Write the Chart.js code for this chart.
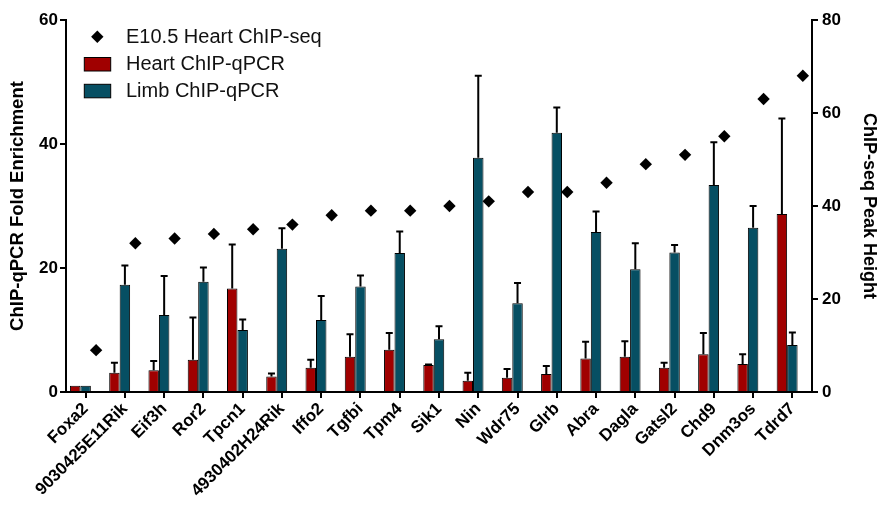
<!DOCTYPE html>
<html>
<head>
<meta charset="utf-8">
<script src="https://cdn.jsdelivr.net/npm/chart.js@4/dist/chart.umd.min.js"></script>
<style>
  html, body { margin: 0; padding: 0; background: #ffffff; }
  #wrap { width: 881px; height: 505px; position: relative; }
</style>
</head>
<body>
<div id="wrap"><canvas id="c" width="881" height="505"></canvas></div>
<script>
const categories = ["Foxa2", "9030425E11Rik", "Eif3h", "Ror2", "Tpcn1", "4930402H24Rik", "Iffo2", "Tgfbi", "Tpm4", "Sik1", "Nin", "Wdr75", "Glrb", "Abra", "Dagla", "Gatsl2", "Chd9", "Dnm3os", "Tdrd7"];
const heartValues = [1.0, 3.1, 3.5, 5.2, 16.7, 2.5, 3.9, 5.7, 6.8, 4.35, 1.8, 2.3, 2.9, 5.4, 5.7, 3.9, 6.1, 4.5, 28.7];
const heartErrors = [0, 1.6, 1.5, 6.8, 7.1, 0.5, 1.3, 3.6, 2.7, 0.1, 1.3, 1.4, 1.3, 2.7, 2.5, 0.8, 3.4, 1.6, 15.4];
const limbValues = [1.0, 17.3, 12.4, 17.8, 10.0, 23.1, 11.6, 17.0, 22.4, 8.5, 37.8, 14.3, 41.8, 25.8, 19.8, 22.5, 33.4, 26.5, 7.6];
const limbErrors = [0, 3.1, 6.3, 2.3, 1.7, 3.3, 3.9, 1.8, 3.5, 2.1, 13.2, 3.3, 4.1, 3.3, 4.2, 1.2, 6.9, 3.5, 2.0];
const chipSeqPeaks = [9, 32, 33, 34, 35, 36, 38, 39, 39, 40, 41, 43, 43, 45, 49, 51, 55, 63, 68];
const leftTicks = [0, 20, 40, 60];
const rightTicks = [0, 20, 40, 60, 80];

const RED = '#a00000';
const TEAL = '#064f63';
Chart.defaults.font.family = "'Liberation Sans', Arial, sans-serif";
Chart.defaults.color = '#000';

function drawDiamond(ctx, x, y, r) {
  ctx.beginPath();
  ctx.moveTo(x, y - r);
  ctx.lineTo(x + r, y);
  ctx.lineTo(x, y + r);
  ctx.lineTo(x - r, y);
  ctx.closePath();
  ctx.fillStyle = '#000';
  ctx.fill();
}

const errorBarPlugin = {
  id: 'errorBars',
  afterDatasetsDraw(chart) {
    const ctx = chart.ctx;
    chart.data.datasets.forEach((ds, di) => {
      if (!ds.errors) return;
      const meta = chart.getDatasetMeta(di);
      const yScale = chart.scales[meta.yAxisID];
      meta.data.forEach((bar, i) => {
        const err = ds.errors[i];
        if (!err) return;
        const top = yScale.getPixelForValue(ds.data[i] + err);
        ctx.save();
        ctx.strokeStyle = '#000';
        ctx.lineWidth = 2;
        ctx.beginPath();
        ctx.moveTo(bar.x, bar.y);
        ctx.lineTo(bar.x, top);
        ctx.moveTo(bar.x - 3.5, top);
        ctx.lineTo(bar.x + 3.5, top);
        ctx.stroke();
        ctx.restore();
      });
    });
  }
};

const diamondPlugin = {
  id: 'diamonds',
  afterDatasetsDraw(chart) {
    const ctx = chart.ctx;
    chart.data.datasets.forEach((ds, di) => {
      if (!ds.diamond) return;
      const meta = chart.getDatasetMeta(di);
      meta.data.forEach(el => drawDiamond(ctx, el.x, el.y, 6.2));
    });
  }
};

const legendPlugin = {
  id: 'customLegend',
  afterDraw(chart) {
    const ctx = chart.ctx;
    const ds = chart.data.datasets;
    ctx.save();
    ctx.font = "20px 'Liberation Sans', Arial, sans-serif";
    ctx.textBaseline = 'middle';
    ctx.textAlign = 'left';
    drawDiamond(ctx, 97.3, 36.7, 6.2);
    ctx.fillStyle = '#111';
    ctx.fillText(ds[2].label, 126, 37.5);
    [[0, 57.5, 64.5], [1, 84.3, 91]].forEach(([idx, y, ty]) => {
      ctx.fillStyle = ds[idx].backgroundColor;
      ctx.fillRect(84.3, y, 26.4, 13.5);
      ctx.strokeStyle = '#000';
      ctx.lineWidth = 1;
      ctx.strokeRect(84.3, y, 26.4, 13.5);
      ctx.fillStyle = '#111';
      ctx.fillText(ds[idx].label, 126, ty);
    });
    ctx.restore();
  }
};

new Chart(document.getElementById('c'), {
  type: 'bar',
  data: {
    labels: categories,
    datasets: [
      { label: 'Heart ChIP-qPCR', data: heartValues, errors: heartErrors, yAxisID: 'y',
        backgroundColor: RED, borderColor: '#000', borderWidth: 1 },
      { label: 'Limb ChIP-qPCR', data: limbValues, errors: limbErrors, yAxisID: 'y',
        backgroundColor: TEAL, borderColor: '#000', borderWidth: 1 },
      { label: 'E10.5 Heart ChIP-seq', data: chipSeqPeaks, yAxisID: 'y2', diamond: true,
        backgroundColor: 'rgba(0,0,0,0)', borderWidth: 0 }
    ]
  },
  options: {
    responsive: false,
    animation: false,
    events: [],
    devicePixelRatio: 1,
    categoryPercentage: 0.8,
    barPercentage: 1.0,
    layout: { padding: { top: 20, left: 0, right: 0, bottom: 0 } },
    plugins: { legend: { display: false }, tooltip: { enabled: false } },
    scales: {
      x: {
        type: 'category',
        offset: true,
        grid: { display: true, offset: false, drawOnChartArea: false, drawTicks: true, tickLength: 6, color: '#000', lineWidth: 2 },
        border: { display: true, color: '#000', width: 2 },
        ticks: { font: { size: 17, weight: 'bold' }, color: '#000', minRotation: 45, maxRotation: 45, autoSkip: false, padding: 1 },
        afterFit(s) { s.height = 113; }
      },
      y: {
        position: 'left',
        min: 0, max: 60,
        afterBuildTicks(s) { s.ticks = leftTicks.map(v => ({ value: v })); },
        grid: { display: true, drawOnChartArea: false, drawTicks: true, tickLength: 6, color: '#000', lineWidth: 2 },
        border: { display: true, color: '#000', width: 2 },
        ticks: { font: { size: 17, weight: 'bold' }, color: '#000', padding: 2 },
        title: { display: true, text: 'ChIP-qPCR Fold Enrichment', font: { size: 18.5, weight: 'bold' }, color: '#000', padding: { top: 7, bottom: 0 } },
        afterFit(s) { s.width = 66; }
      },
      y2: {
        position: 'right',
        min: 0, max: 80,
        afterBuildTicks(s) { s.ticks = rightTicks.map(v => ({ value: v })); },
        grid: { display: true, drawOnChartArea: false, drawTicks: true, tickLength: 6, color: '#000', lineWidth: 2 },
        border: { display: true, color: '#000', width: 2 },
        ticks: { font: { size: 17, weight: 'bold' }, color: '#000', padding: 4 },
        title: { display: true, text: 'ChIP-seq Peak Height', font: { size: 18, weight: 'bold' }, color: '#000', padding: { top: 1, bottom: 0 } },
        afterFit(s) { s.width = 69; }
      }
    }
  },
  plugins: [errorBarPlugin, diamondPlugin, legendPlugin]
});
</script>
</body>
</html>
